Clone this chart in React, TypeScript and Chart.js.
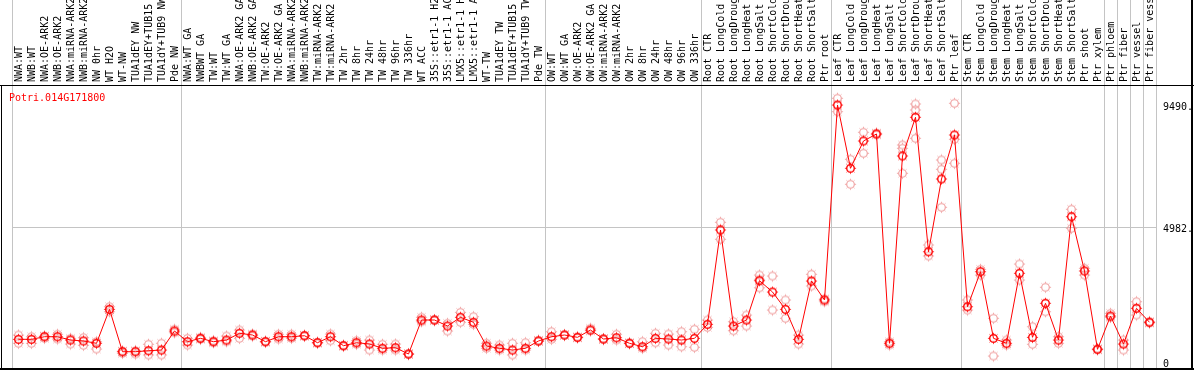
import { useEffect, useRef } from 'react';
import { Chart, registerables } from 'chart.js';

Chart.register(...registerables);

const geneTitle = 'Potri.014G171800';

const categories = [
  'NWA:WT', 'NWB:WT', 'NWA:OE-ARK2', 'NWB:OE-ARK2', 'NWA:miRNA-ARK2', 'NWB:miRNA-ARK2', 'NW 0hr', 'WT H2O', 'WT-NW',
  'TUA1dEY NW', 'TUA1dEY+TUB15 NW', 'TUA1dY+TUB9 NW', 'Pde NW',
  'NWA:WT GA', 'NWBWT GA', 'TW:WT', 'TW:WT GA', 'NWA:OE-ARK2 GA', 'NWB:OE-ARK2 GA', 'TW:OE-ARK2', 'TW:OE-ARK2 GA',
  'NWA:miRNA-ARK2', 'NWB:miRNA-ARK2', 'TW:miRNA-ARK2', 'TW:miRNA-ARK2', 'TW 2hr', 'TW 8hr', 'TW 24hr', 'TW 48hr',
  'TW 96hr', 'TW 336hr', 'WT ACC', '35S::etr1-1 H2O', '35S::etr1-1 ACC', 'LMX5::etr1-1 H2O', 'LMX5::etr1-1 ACC',
  'WT-TW', 'TUA1dEY TW', 'TUA1dEY+TUB15 TW', 'TUA1dY+TUB9 TW', 'Pde TW',
  'OW:WT', 'OW:WT GA', 'OW:OE-ARK2', 'OW:OE-ARK2 GA', 'OW:miRNA-ARK2', 'OW:miRNA-ARK2', 'OW 2hr', 'OW 8hr', 'OW 24hr',
  'OW 48hr', 'OW 96hr', 'OW 336hr',
  'Root CTR', 'Root LongCold', 'Root LongDrought', 'Root LongHeat', 'Root LongSalt', 'Root ShortCold',
  'Root ShortDrought', 'Root ShortHeat', 'Root ShortSalt', 'Ptr root',
  'Leaf CTR', 'Leaf LongCold', 'Leaf LongDrought', 'Leaf LongHeat', 'Leaf LongSalt', 'Leaf ShortCold',
  'Leaf ShortDrought', 'Leaf ShortHeat', 'Leaf ShortSalt', 'Ptr leaf',
  'Stem CTR', 'Stem LongCold', 'Stem LongDrought', 'Stem LongHeat', 'Stem LongSalt', 'Stem ShortCold',
  'Stem ShortDrought', 'Stem ShortHeat', 'Stem ShortSalt', 'Ptr shoot', 'Ptr xylem',
  'Ptr phloem', 'Ptr fiber', 'Ptr vessel', 'Ptr fiber vessel',
];

// index of first category of each group (and the end)
const groupStarts = [0, 13, 41, 53, 63, 73, 84, 85, 86, 87, 88];

const meanValues = [
  838, 838, 934, 934, 812, 776, 691, 1946, 380, 380, 417, 443, 1145,
  750, 875, 750, 812, 1060, 997, 750, 934, 934, 971, 713, 934, 602, 713, 665, 506, 528, 295,
  1551, 1551, 1329, 1651, 1466, 591, 506, 443, 506, 776,
  934, 997, 912, 1182, 849, 897, 691, 565, 875, 849, 812, 875,
  1392, 4875, 1329, 1551, 3002, 2585, 1946, 838, 2991, 2290,
  9490, 7153, 8162, 8420, 691, 7608, 9037, 4073, 6758, 8383,
  2042, 3335, 875, 691, 3276, 912, 2168, 812, 5366, 3361, 469,
  1699, 665, 1983, 1466,
];

const replicateA = [
  997, 934, 960, 1023, 875, 897, 750, 2042, 406, 417, 654, 691, 1208,
  875, 912, 787, 960, 1182, 1034, 770, 1023, 1023, 990, 730, 1034, 620, 787, 812, 654, 665, 310,
  1651, 1570, 1429, 1835, 1673, 691, 628, 691, 713, 800,
  1119, 1020, 930, 1245, 870, 1023, 710, 750, 1060, 1034, 1119, 1208,
  1551, 5159, 1488, 1736, 3213, 3176, 2290, 997, 3239, 2330,
  9738, 7486, 8483, 8450, 750, 8014, 9528, 4321, 7460, 9554,
  2290, 3423, 1614, 812, 3619, 1304, 2759, 934, 5639, 3460, 490,
  1798, 812, 2227, 1490,
];

const replicateB = [
  691, 691, 875, 849, 665, 617, 480, 1858, 321, 295, 259, 259, 1082,
  628, 838, 713, 750, 875, 960, 735, 849, 875, 950, 700, 787, 590, 654, 443, 443, 443, 280,
  1488, 1530, 1145, 1466, 1392, 506, 443, 259, 443, 760,
  838, 980, 890, 1150, 830, 812, 675, 506, 713, 628, 565, 543,
  1281, 4531, 1156, 1329, 3054, 1920, 1614, 665, 2807, 2227,
  9244, 6562, 7707, 8390, 628, 6969, 8261, 3915, 5713, 7338,
  1920, 3213, 222, 628, 3028, 654, 1858, 691, 4938, 3213, 450,
  1650, 443, 1736, 1440,
];

const replicateC = [
  null, null, null, null, null, null, null, null, null, null, null, null, null,
  null, null, null, null, null, null, null, null, null, null, null, null, null, null, null, null, null, null,
  null, null, null, null, null, null, null, null, null, null,
  null, null, null, null, null, null, null, null, null, null, null, null,
  null, null, null, null, 2740, null, null, null, null, null,
  null, null, null, null, null, 7892, 9306, null, 7116, 8224,
  null, null, null, null, null, null, null, null, null, null, null,
  null, null, null, null,
];

const yTickValues = [0, 4982, 9490];
const yTickLabels = ['0', '4982.', '9490.'];
const yGridValues = [4982];

const MONO = "'DejaVu Sans Mono', 'Liberation Mono', monospace";

function makeMarker(color: string, lw: number) {
  const c = document.createElement('canvas');
  c.width = 13;
  c.height = 13;
  const g = c.getContext('2d')!;
  g.strokeStyle = color;
  g.lineWidth = lw;
  g.beginPath();
  g.arc(6.5, 6.5, 3.8, 0, Math.PI * 2);
  g.stroke();
  g.lineWidth = 0.8;
  for (let k = 0; k < 8; k++) {
    const a = (k * Math.PI) / 4;
    g.beginPath();
    g.moveTo(6.5 + Math.cos(a) * 4.4, 6.5 + Math.sin(a) * 4.4);
    g.lineTo(6.5 + Math.cos(a) * 5.6, 6.5 + Math.sin(a) * 5.6);
    g.stroke();
  }
  return c;
}

export default function App() {
  const ref = useRef<HTMLCanvasElement>(null);

  useEffect(() => {
    document.body.style.margin = '0';
    const canvas = ref.current;
    if (!canvas) return;

    const meanMarker = makeMarker('#ff0000', 1.4);
    const repMarker = makeMarker('rgb(238,150,150)', 1.1);

    const framePlugin = {
      id: 'frame',
      afterDraw(chart: any) {
        const ctx = chart.ctx;
        ctx.save();
        ctx.fillStyle = '#000';
        ctx.fillRect(0, 85, 1194, 1);
        ctx.fillRect(1, 85, 1, 285);
        ctx.fillRect(1191, 0, 2, 370);
        ctx.fillRect(0, 368, 1194, 2);
        ctx.fillStyle = '#ff0000';
        ctx.font = `10px ${MONO}`;
        ctx.textAlign = 'left';
        ctx.textBaseline = 'alphabetic';
        ctx.fillText(geneTitle, 9, 101);
        ctx.restore();
      },
    };

    const repDataset = (data: (number | null)[]) => ({
      data,
      showLine: false,
      pointStyle: repMarker,
      pointRadius: 6,
      pointHoverRadius: 6,
      borderColor: 'rgb(238,150,150)',
      backgroundColor: 'transparent',
      order: 2,
    });

    const zeroPadding = (s: any) => {
      s.paddingTop = 0;
      s.paddingBottom = 0;
      s.paddingLeft = 0;
      s.paddingRight = 0;
    };

    const chart = new Chart(canvas, {
      type: 'line',
      data: {
        labels: categories,
        datasets: [
          {
            data: meanValues,
            borderColor: '#ff0000',
            borderWidth: 1,
            backgroundColor: 'transparent',
            pointStyle: meanMarker,
            pointRadius: 6,
            pointHoverRadius: 6,
            tension: 0,
            order: 0,
          },
          repDataset(replicateA),
          repDataset(replicateB),
          repDataset(replicateC),
        ],
      },
      options: {
        animation: false,
        responsive: false,
        devicePixelRatio: 1,
        events: [],
        layout: { autoPadding: false, padding: { left: 12, right: 0, top: 0, bottom: 1 } },
        plugins: {
          legend: { display: false },
          tooltip: { enabled: false },
          title: { display: false },
        },
        scales: {
          x: {
            type: 'category',
            position: 'top',
            offset: true,
            afterFit: (s: any) => {
              s.height = 85;
              zeroPadding(s);
            },
            border: { display: false },
            grid: {
              offset: true,
              drawOnChartArea: true,
              drawTicks: true,
              tickLength: 85,
              lineWidth: 1,
              color: (ctx: any) =>
                ctx.type !== 'tick' || groupStarts.includes(ctx.index) ? '#c4c4c4' : 'rgba(0,0,0,0)',
            },
            ticks: {
              autoSkip: false,
              minRotation: 90,
              maxRotation: 90,
              padding: -82,
              labelOffset: 13,
              color: '#000',
              font: { family: MONO, size: 10 },
            },
          },
          y: {
            position: 'right',
            min: -258,
            max: 10229,
            afterFit: (s: any) => {
              s.width = 38;
              zeroPadding(s);
            },
            afterBuildTicks: (s: any) => {
              s.ticks = yTickValues.map((v) => ({ value: v }));
            },
            border: { display: false },
            grid: {
              drawTicks: false,
              drawOnChartArea: true,
              lineWidth: 1,
              color: (ctx: any) =>
                ctx.tick && yGridValues.includes(ctx.tick.value) ? '#c4c4c4' : 'rgba(0,0,0,0)',
            },
            ticks: {
              padding: 7,
              labelOffset: 2,
              color: '#000',
              font: { family: MONO, size: 10 },
              callback: (_v: any, i: number) => yTickLabels[i],
            },
          },
        },
      },
      plugins: [framePlugin],
    });

    return () => chart.destroy();
  }, []);

  return <canvas ref={ref} width={1194} height={370} style={{ display: 'block' }} />;
}
